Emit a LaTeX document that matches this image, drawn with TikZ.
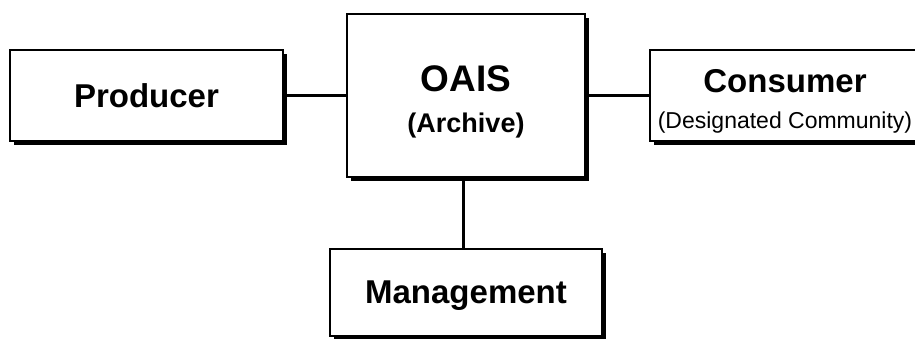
\documentclass[tikz,border=0pt]{standalone}
\usepackage{fontspec}
\setmainfont{Liberation Sans}
\usetikzlibrary{shadows}
\tikzset{
  entity/.style={draw, line width=2pt, fill=white, inner sep=0pt, align=center,
    drop shadow={shadow xshift=4pt, shadow yshift=-4pt, opacity=1, fill=black}},
  link/.style={line width=3pt}
}
\newcommand{\bigname}{\fontsize{33}{38}\selectfont\bfseries}
\begin{document}
\begin{tikzpicture}[x=1pt,y=-1pt]
  \useasboundingbox (0,0) rectangle (915,338);
  %% Boxes
  \node[entity, minimum width=273pt, minimum height=91pt] (producer) at (146.5,95.5)
    {\bigname Producer};
  \node[entity, minimum width=238pt, minimum height=163pt,
        font={\fontsize{27}{41}\selectfont\bfseries}] (oais) at (466,95.5)
    {\rule{0pt}{39pt}\fontsize{37}{41}\selectfont OAIS\\ (Archive)};
  \node[entity, minimum width=270pt, minimum height=91pt,
        font={\fontsize{23}{36}\selectfont}] (consumer) at (785,95.5)
    {\rule{0pt}{34pt}\bigname Consumer\\ (Designated Community)};
  \node[entity, minimum width=272pt, minimum height=87pt, text depth=0pt] (management) at (466,292.5)
    {\bigname Management};
  %% Links
  \coordinate (drop) at (463,0);
  \draw[link] (producer.east) -- (oais.west);
  \draw[link] (oais.east) -- (consumer.west);
  \draw[link] (oais.south -| drop) -- (management.north -| drop);
\end{tikzpicture}
\end{document}
